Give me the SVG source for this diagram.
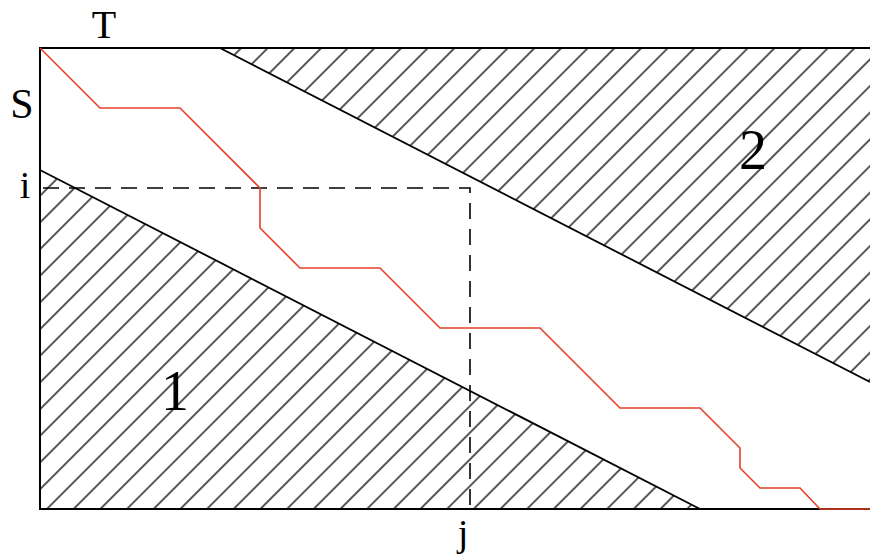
<svg xmlns="http://www.w3.org/2000/svg" width="870" height="557" viewBox="0 0 870 557">
  <style>
    text { font-family: 'Liberation Serif', 'DejaVu Serif', 'Times New Roman', serif; fill: #000; }
    .edge { stroke: #000; stroke-width: 2; fill: none; }
    .bound { stroke: #000; stroke-width: 1.8; fill: none; }
    .dash { stroke: #000; stroke-width: 1.6; stroke-dasharray: 16 10; fill: none; }
    .path { stroke: #e8402a; stroke-width: 1.6; fill: none; stroke-linejoin: miter; }
  </style>
  <defs>
    <pattern id="hatch" patternUnits="userSpaceOnUse" width="18.86" height="18.86" patternTransform="rotate(45)">
      <rect x="15.2" y="0" width="1.4" height="18.86" fill="#111"/>
    </pattern>
  </defs>
  <rect width="870" height="557" fill="#fff"/>

  <g id="region1">
    <polygon points="40,170 700,509 40,509" fill="url(#hatch)"/>
    <line class="bound" x1="40" y1="170" x2="700" y2="509"/>
    <text x="175" y="410" font-size="56" text-anchor="middle">1</text>
  </g>

  <g id="region2">
    <polygon points="220,48 870,48 870,382" fill="url(#hatch)"/>
    <line class="bound" x1="220" y1="48" x2="870" y2="382"/>
    <text x="753" y="169" font-size="56" text-anchor="middle">2</text>
  </g>

  <g id="frame">
    <polyline class="edge" points="870,48 40,48 40,509 870,509"/>
  </g>

  <g id="connectors">
    <polyline class="dash" points="43,188 470,188 470,509"/>
    <polyline class="path" points="40,48 100,108 180,108 260,188 260,228 300,268 380,268 440,328 540,328 620,408 700,408 740,448 740,468 760,488 800,488 820,509 870,509"/>
  </g>

  <g id="labels">
    <text x="104" y="38" font-size="40" text-anchor="middle">T</text>
    <text x="22" y="118" font-size="42" text-anchor="middle">S</text>
    <text x="25" y="198" font-size="38" text-anchor="middle">i</text>
    <text x="463" y="546" font-size="38" text-anchor="middle">j</text>
  </g>
</svg>
